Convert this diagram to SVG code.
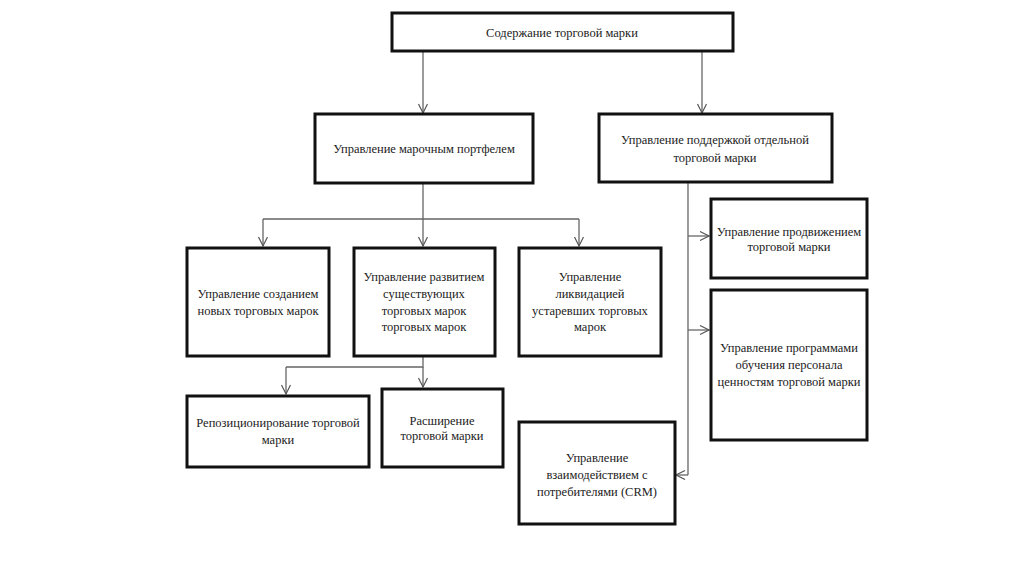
<svg xmlns="http://www.w3.org/2000/svg" width="1024" height="574" viewBox="0 0 1024 574">
<defs>
<marker id="ah" markerWidth="12" markerHeight="12" refX="10" refY="5" orient="auto" markerUnits="userSpaceOnUse">
<path d="M1,0.5 L10,5 L1,9.5" fill="none" stroke="#555" stroke-width="1.2"/>
</marker>
<style>
.box{fill:#fff;stroke:#111;stroke-width:3}
.t{font-family:"Liberation Serif","Times New Roman",serif;font-size:12.5px;fill:#222;text-anchor:middle}
.c{fill:none;stroke:#666;stroke-width:1.3}
.a{marker-end:url(#ah)}
</style>
</defs>
<rect width="1024" height="574" fill="#fff"/>
<g id="connectors">
<path class="c a" d="M423,51 V113"/>
<path class="c a" d="M702,51 V113"/>
<path class="c" d="M423,183 V219 M263,219 H579"/>
<path class="c a" d="M263,219 V246"/>
<path class="c a" d="M423,219 V246"/>
<path class="c a" d="M579,219 V246"/>
<path class="c" d="M423,356 V367 H286"/>
<path class="c a" d="M286,367 V394"/>
<path class="c a" d="M423,367 V387"/>
<path class="c" d="M688,182 V475"/>
<path class="c a" d="M688,236 H709"/>
<path class="c a" d="M688,330 H709"/>
<path class="c a" d="M688,475 H676"/>
</g>
<g id="n-root"><rect class="box" x="392" y="13" width="341" height="38"/><text class="t" x="562" y="37">Содержание торговой марки</text></g>
<g id="n-portfolio"><rect class="box" x="315" y="114" width="218" height="69"/><text class="t" x="424" y="153">Управление марочным портфелем</text></g>
<g id="n-support"><rect class="box" x="599" y="114" width="233" height="68"/><text class="t" x="715" y="144">Управление поддержкой отдельной</text><text class="t" x="715" y="162">торговой марки</text></g>
<g id="n-create"><rect class="box" x="187" y="248" width="142" height="108"/><text class="t" x="258" y="298">Управление созданием</text><text class="t" x="258" y="315">новых торговых марок</text></g>
<g id="n-develop"><rect class="box" x="354" y="248" width="141" height="108"/><text class="t" x="424" y="281">Управление развитием</text><text class="t" x="424" y="298">существующих</text><text class="t" x="424" y="315">торговых марок</text><text class="t" x="424" y="331">торговых марок</text></g>
<g id="n-liquid"><rect class="box" x="519" y="248" width="142" height="108"/><text class="t" x="590" y="281">Управление</text><text class="t" x="590" y="298">ликвидацией</text><text class="t" x="590" y="315">устаревших торговых</text><text class="t" x="590" y="331">марок</text></g>
<g id="n-repos"><rect class="box" x="187" y="396" width="182" height="71"/><text class="t" x="278" y="427">Репозиционирование торговой</text><text class="t" x="278" y="444">марки</text></g>
<g id="n-extend"><rect class="box" x="382" y="389" width="121" height="78"/><text class="t" x="442" y="425">Расширение</text><text class="t" x="442" y="440">торговой марки</text></g>
<g id="n-promo"><rect class="box" x="711" y="199" width="156" height="79"/><text class="t" x="789" y="236">Управление продвижением</text><text class="t" x="789" y="251">торговой марки</text></g>
<g id="n-training"><rect class="box" x="711" y="290" width="156" height="150"/><text class="t" x="789" y="352">Управление программами</text><text class="t" x="789" y="369">обучения персонала</text><text class="t" x="789" y="386">ценностям торговой марки</text></g>
<g id="n-crm"><rect class="box" x="519" y="422" width="156" height="102"/><text class="t" x="597" y="462">Управление</text><text class="t" x="597" y="479">взаимодействием с</text><text class="t" x="597" y="496">потребителями (CRM)</text></g>
</svg>
